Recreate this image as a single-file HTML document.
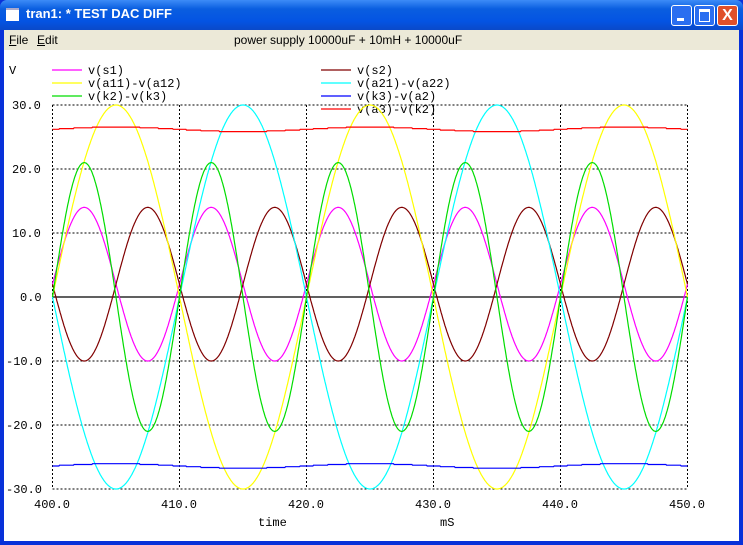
<!DOCTYPE html><html><head><style>
body{margin:0;width:743px;height:545px;overflow:hidden;font-family:"Liberation Sans",sans-serif}
.win{position:absolute;left:0;top:0;width:743px;height:545px;background:#0831d9}
.title{position:absolute;left:0;top:0;width:743px;height:30px;background:linear-gradient(#3d8cf7,#0a5ee0 30%,#0454e3 70%,#0a49c8);border-radius:7px 7px 0 0}
.title span{position:absolute;left:26px;top:6px;color:#fff;font-weight:bold;font-size:13px}
.ic{position:absolute;left:6px;top:8px;width:13px;height:11px;background:#fff;border-top:2px solid #aac}
.btn{position:absolute;top:5px;width:19px;height:19px;border:1px solid #fff;border-radius:3px;background:#2a6ef0}
.menu{position:absolute;left:4px;top:30px;width:735px;height:20px;background:#ece9d8;font-size:12px}
.content{position:absolute;left:4px;top:50px;width:735px;height:491px;background:#fff}
svg text{font-family:"Liberation Mono",monospace;font-size:12px}
</style></head><body><div class="win">
<div class="title"><div class="ic"></div><span>tran1: * TEST DAC DIFF</span>
<div class="btn" style="left:671px"><div style="position:absolute;left:5px;top:12px;width:7px;height:3px;background:#fff"></div></div>
<div class="btn" style="left:694px"><div style="position:absolute;left:4px;top:3px;width:9px;height:9px;border:1px solid #fff;border-top-width:3px"></div></div>
<div class="btn" style="left:717px;background:#e0502a;color:#fff;text-align:center;font-weight:bold;line-height:19px">X</div></div>
<div class="menu"><span style="position:absolute;left:5px;top:3px"><u>F</u>ile</span><span style="position:absolute;left:33px;top:3px"><u>E</u>dit</span><span style="position:absolute;left:230px;top:3px">power supply 10000uF + 10mH + 10000uF</span></div>
<div class="content"></div>
<svg width="743" height="545" style="position:absolute;left:0;top:0" id="s">
<g fill="#000">
<text x="9" y="74">V</text>
<text x="88" y="74">v(s1)</text><text x="88" y="87">v(a11)-v(a12)</text><text x="88" y="100">v(k2)-v(k3)</text>
<text x="357" y="74">v(s2)</text><text x="357" y="87">v(a21)-v(a22)</text><text x="357" y="100">v(k3)-v(a2)</text><text x="357" y="113">v(a3)-v(k2)</text>
<text x="12" y="109">30.0</text><text x="12" y="173">20.0</text><text x="12" y="237">10.0</text><text x="20" y="301">0.0</text>
<text x="6" y="365">-10.0</text><text x="6" y="429">-20.0</text><text x="6" y="493">-30.0</text>
<text x="34" y="508">400.0</text><text x="161" y="508">410.0</text><text x="288" y="508">420.0</text><text x="415" y="508">430.0</text><text x="542" y="508">440.0</text><text x="669" y="508">450.0</text>
<text x="258" y="526">time</text><text x="440" y="526">mS</text>
</g>
<g stroke-width="1.2">
<line x1="52" y1="70" x2="82" y2="70" stroke="#f0f"/><line x1="52" y1="83" x2="82" y2="83" stroke="#ff0"/><line x1="52" y1="96" x2="82" y2="96" stroke="#0d0"/>
<line x1="321" y1="70" x2="351" y2="70" stroke="#800000"/><line x1="321" y1="83" x2="351" y2="83" stroke="#0ff"/><line x1="321" y1="96" x2="351" y2="96" stroke="#00f"/><line x1="321" y1="109" x2="351" y2="109" stroke="#f00"/>
</g>
<g id="grid" stroke="#000" stroke-dasharray="2,2" fill="none"></g>
<g id="curves" fill="none" stroke-width="1.2"></g>
</svg></div>
<script>
var g=document.getElementById('grid'),c=document.getElementById('curves'),ns='http://www.w3.org/2000/svg';
function L(x1,y1,x2,y2){var l=document.createElementNS(ns,'line');l.setAttribute('x1',x1);l.setAttribute('y1',y1);l.setAttribute('x2',x2);l.setAttribute('y2',y2);g.appendChild(l);}
for(var i=0;i<6;i++){var x=52.5+i*127;L(x,105,x,489);}
for(var j=0;j<7;j++){if(j==3)continue;var y=105+j*64;L(52.5,y,687.5,y);}
var X=t=>52.5+(t-400)*12.7,Y=v=>297-v*6.4;
function P(f,col){var d='';for(var t=400;t<=450.001;t+=0.05){d+=(d?'L':'M')+X(t).toFixed(1)+' '+Y(f(t)).toFixed(1);}var p=document.createElementNS(ns,'path');p.setAttribute('d',d);p.setAttribute('stroke',col);c.appendChild(p);}
var w=2*Math.PI/20;
P(t=>0,'#000');
P(t=>2+12*Math.sin(2*w*(t-400)),'#f0f');
P(t=>2-12*Math.sin(2*w*(t-400)),'#800000');
P(t=>30*Math.sin(w*(t-400)),'#ff0');
P(t=>-30*Math.sin(w*(t-400)),'#0ff');
P(t=>21*Math.sin(2*w*(t-400)),'#0d0');
P(t=>26.2+0.35*Math.round(Math.sin(w*(t-400))*3)/3,'#f00');
P(t=>-26.4+0.35*Math.round(Math.sin(w*(t-400))*3)/3,'#00f');
</script></body></html>
